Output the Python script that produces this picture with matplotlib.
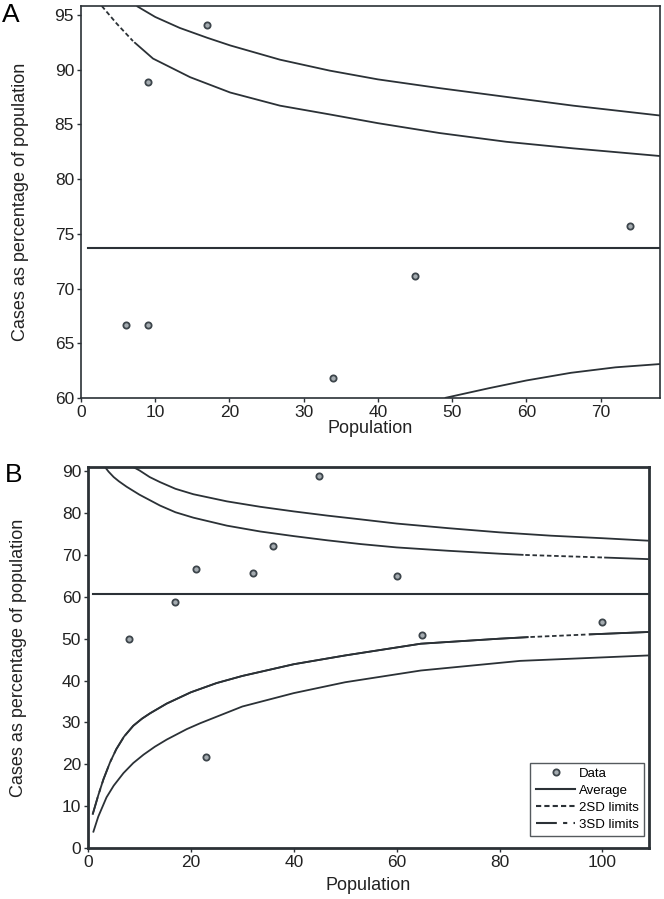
import matplotlib
matplotlib.use("Agg")
import matplotlib.pyplot as plt
from matplotlib.lines import Line2D

plt.rcParams['font.family'] = ['Liberation Sans', 'DejaVu Sans']

INK = '#2b3136'

# ---- panel A data ----
pop_a = [6, 9, 9, 17, 34, 45, 74]
pct_a = [66.7, 66.7, 88.9, 94.1, 61.8, 71.1, 75.7]
avg_a = 73.7

a_up3_x = [7.5, 10, 13.3, 17, 20.1, 26.8, 33.5, 40, 48.3, 57.3, 66.3, 78]
a_up3_y = [95.8, 94.8, 93.8, 92.9, 92.2, 90.9, 89.9, 89.1, 88.3, 87.5, 86.7, 85.8]
a_up2_x = [2.8, 4.8, 7.0, 9.7, 14.7, 20.1, 26.8, 33.5, 40, 48.3, 57.3, 66.3, 78]
a_up2_y = [95.8, 94.2, 92.6, 91.0, 89.3, 87.9, 86.7, 85.9, 85.1, 84.2, 83.4, 82.8, 82.1]
a_lo2_x = [49, 55, 60, 66, 72, 78]
a_lo2_y = [60.0, 60.9, 61.6, 62.3, 62.8, 63.1]

# ---- panel B data ----
pop_b = [8, 17, 21, 23, 32, 36, 45, 60, 65, 100]
pct_b = [50.0, 58.8, 66.7, 21.7, 65.6, 72.2, 88.9, 65.0, 50.8, 54.0]
avg_b = 60.7

b_up3_x = [8.8, 10, 12, 14, 17, 20.5, 27, 33.5, 40, 46.5, 53, 60, 70, 80, 90, 100, 109]
b_up3_y = [91.0, 90.2, 88.6, 87.4, 85.8, 84.5, 82.8, 81.5, 80.4, 79.4, 78.5, 77.5, 76.4, 75.4, 74.6, 74.0, 73.4]
b_up2_x = [3.3, 4, 5, 6, 7.5, 10, 14, 17, 20.5, 27, 33.5, 40, 46.5, 53, 60, 70, 80, 85, 90, 100, 109]
b_up2_y = [91.0, 89.9, 88.6, 87.6, 86.3, 84.4, 81.8, 80.2, 78.9, 77.0, 75.6, 74.5, 73.5, 72.6, 71.8, 71.0, 70.3, 70.0, 69.8, 69.4, 69.0]
b_lo2_x = [0.9, 2, 3, 4.3, 5.5, 7, 8.8, 10.5, 12.1, 15.3, 20, 25, 30, 40, 50, 64.7, 80, 86, 97, 109]
b_lo2_y = [8.0, 12.6, 16.4, 20.5, 23.6, 26.6, 29.2, 30.9, 32.2, 34.5, 37.2, 39.4, 41.1, 43.9, 46.0, 48.8, 50.0, 50.4, 51.0, 51.6]
b_lo3_x = [1, 2, 3.6, 5, 6.9, 8.8, 10.8, 13, 15.3, 19.2, 21.8, 30, 40, 50, 64.7, 84, 109]
b_lo3_y = [3.7, 7.5, 12.1, 14.9, 17.9, 20.3, 22.3, 24.2, 25.9, 28.4, 29.8, 33.8, 37.0, 39.6, 42.4, 44.7, 46.0]

LW = 1.3
DASH_2SD = (0, (2.5, 1.5))
DASH_3SD = (0, (10, 3, 2, 3))
FS = 12.5


def draw_limit(ax, xs, ys, dashed_from=None, dashed_to=None, style=DASH_2SD):
    # curve is solid, except the stretch [dashed_from, dashed_to] that is dashed
    ax.plot(xs, ys, color=INK, lw=LW, solid_capstyle='butt', solid_joinstyle='round')
    if dashed_from is None:
        return
    lo = dashed_from
    hi = dashed_to if dashed_to is not None else max(xs)
    seg_x = [x for x in xs if lo <= x <= hi]
    seg_y = [y for x, y in zip(xs, ys) if lo <= x <= hi]
    ax.plot(seg_x, seg_y, color='white', lw=LW + 1.2)
    ax.plot(seg_x, seg_y, color=INK, lw=LW, linestyle=style)


def style_axes(ax, frame_lw, ylab_x, xlab_y):
    for sp in ax.spines.values():
        sp.set_linewidth(frame_lw)
        sp.set_color(INK)
    ax.tick_params(direction='out', length=3, width=1, colors=INK,
                   labelsize=FS, labelcolor='#222222', pad=2)
    ax.set_xlabel("Population", fontsize=13, color='#222222')
    ax.set_ylabel("Cases as percentage of population", fontsize=13, color='#222222')
    ax.yaxis.set_label_coords(ylab_x, 0.5)
    ax.xaxis.set_label_coords(0.5, xlab_y)


def scatter(ax, xs, ys):
    ax.plot(xs, ys, linestyle='none', marker='o', markersize=4.5,
            markerfacecolor='#a4abb0', markeredgecolor='#3d454b',
            markeredgewidth=1.3, zorder=5)


fig = plt.figure(figsize=(6.64, 8.99), dpi=100)

# ---------- A ----------
ax_a = fig.add_axes([0.122, 0.5573, 0.872, 0.436])
ax_a.plot([1, 78], [avg_a, avg_a], color=INK, lw=1.5)
draw_limit(ax_a, a_up3_x, a_up3_y)
draw_limit(ax_a, a_up2_x, a_up2_y, dashed_from=0, dashed_to=7.0)
draw_limit(ax_a, a_lo2_x, a_lo2_y)
scatter(ax_a, pop_a, pct_a)
ax_a.set_xlim(0, 78)
ax_a.set_ylim(60, 95.8)
ax_a.set_xticks(range(0, 71, 10))
ax_a.set_yticks(range(60, 96, 5))
style_axes(ax_a, 1.2, -0.09, -0.055)
fig.text(0.003, 0.983, "A", fontsize=19, va='center', ha='left')

# ---------- B ----------
ax_b = fig.add_axes([0.1325, 0.0567, 0.8445, 0.4238])
ax_b.plot([1, 109], [avg_b, avg_b], color=INK, lw=1.5)
draw_limit(ax_b, b_up3_x, b_up3_y)
draw_limit(ax_b, b_up2_x, b_up2_y, dashed_from=85, dashed_to=100)
draw_limit(ax_b, b_lo2_x, b_lo2_y, dashed_from=0, dashed_to=7, style=DASH_3SD)
draw_limit(ax_b, b_lo2_x, b_lo2_y, dashed_from=86, dashed_to=97)
draw_limit(ax_b, b_lo3_x, b_lo3_y)
scatter(ax_b, pop_b, pct_b)
ax_b.set_xlim(0, 109)
ax_b.set_ylim(0, 91)
ax_b.set_xticks(range(0, 101, 20))
ax_b.set_yticks(range(0, 91, 10))
style_axes(ax_b, 2.0, -0.108, -0.075)
fig.text(0.008, 0.472, "B", fontsize=19, va='center', ha='left')

handles = [
    Line2D([], [], linestyle='none', marker='o', markersize=4.5,
           markerfacecolor='#a4abb0', markeredgecolor='#3d454b', markeredgewidth=1.3),
    Line2D([], [], color=INK, lw=1.5),
    Line2D([], [], color=INK, lw=1.5, linestyle=DASH_2SD),
    Line2D([], [], color=INK, lw=1.5, linestyle=DASH_3SD),
]
leg = ax_b.legend(handles, ["Data", "Average", "2SD limits", "3SD limits"],
                  loc='lower right', bbox_to_anchor=(0.997, 0.025), fontsize=9.5,
                  frameon=True, fancybox=False, handlelength=3.0,
                  handletextpad=0.3, borderpad=0.4, labelspacing=0.35,
                  borderaxespad=0.2)
leg.get_frame().set_edgecolor(INK)
leg.get_frame().set_linewidth(1.0)

fig.savefig("out.png", dpi=100)
